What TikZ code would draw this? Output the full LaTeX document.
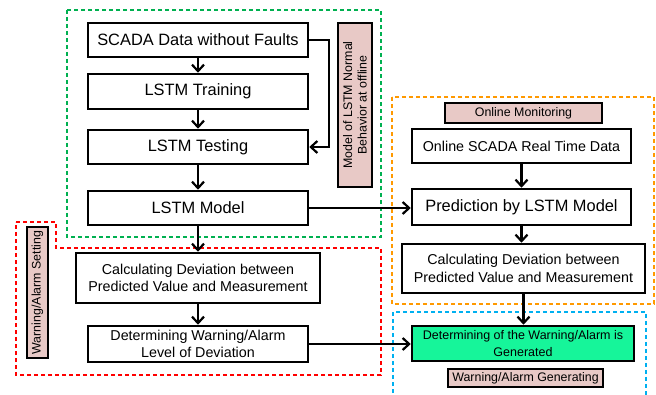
\documentclass[tikz,border=0pt]{standalone}
\usepackage{fontspec}
\setmainfont{Liberation Sans}
\usetikzlibrary{arrows.meta}
\definecolor{dgreen}{HTML}{00B050}
\definecolor{dred}{HTML}{FF0000}
\definecolor{dorange}{HTML}{FF9900}
\definecolor{dblue}{HTML}{00B0F0}
\definecolor{pinkfill}{HTML}{E8C9C6}
\definecolor{mint}{HTML}{16F59A}
\tikzset{
  box/.style={draw=black, line width=2.5pt, fill=white, inner sep=0pt, align=center},
  bigtxt/.style={font=\fontsize{16.4}{19}\selectfont},
  midtxt/.style={font=\fontsize{14.3}{17.3}\selectfont},
  lab/.style={draw=black, line width=2pt, fill=pinkfill, inner sep=0pt, align=center, font=\fontsize{12.4}{14.5}\selectfont},
  arr/.style={line width=2.2pt, -{Straight Barb[length=6.5pt,width=12pt]}},
  dash box/.style={line width=2pt, dash pattern=on 4pt off 3pt},
}
\begin{document}
\begin{tikzpicture}[x=1pt,y=-1pt]
\useasboundingbox (0,0) rectangle (656,395);
% dashed regions
\draw[dash box, dgreen] (67,10) rectangle (381,237);
\draw[dash box, dred] (16,222) -- (56,222) -- (56,248) -- (381,248) -- (381,375) -- (16,375) -- cycle;
\draw[dash box, dorange] (392,97) rectangle (654,304);
\draw[dash box, dblue] (393,400) -- (393,312) -- (646,312) -- (646,400);
% offline
\node[box, bigtxt, minimum width=220pt, minimum height=34pt] (scada) at (198,40) {SCADA Data without Faults};
\node[box, bigtxt, minimum width=220pt, minimum height=35pt] (train) at (198,91.5) {LSTM Training};
\node[box, bigtxt, minimum width=220pt, minimum height=34pt] (test) at (198,147) {LSTM Testing};
\node[box, bigtxt, minimum width=220pt, minimum height=34pt] (model) at (198,208) {LSTM Model};
\node[lab, rotate=90, minimum width=164pt, minimum height=34pt] (lab1) at (355,105) {Model of LSTM Normal\\Behavior at offline};
% warning setting
\node[box, midtxt, minimum width=244pt, minimum height=50pt] (calcL) at (198,278) {Calculating Deviation between\\Predicted Value and Measurement};
\node[box, midtxt, minimum width=220pt, minimum height=36pt] (detL) at (198,344) {Determining Warning/Alarm\\Level of Deviation};
\node[lab, rotate=90, minimum width=131pt, minimum height=21pt] (lab2) at (37.5,292.5) {Warning/Alarm Setting};
% online
\node[lab, minimum width=157pt, minimum height=20pt] (onmon) at (523.5,113) {Online Monitoring};
\node[box, midtxt, minimum width=219pt, minimum height=34pt] (online) at (521.5,146) {Online SCADA Real Time Data};
\node[box, bigtxt, minimum width=219pt, minimum height=36pt] (pred) at (521.5,207) {Prediction by LSTM Model};
\node[box, midtxt, minimum width=243pt, minimum height=49pt] (calcR) at (523.5,268.5) {Calculating Deviation between\\Predicted Value and Measurement};
% generating
\node[box, fill=mint, font=\fontsize{12.5}{17}\selectfont, minimum width=222pt, minimum height=35pt] (gen) at (523,343.5) {Determining of the Warning/Alarm is\\Generated};
\node[lab, minimum width=155pt, minimum height=18pt] (genlab) at (525.5,378) {Warning/Alarm Generating};
% connectors
\draw[arr] (scada) -- (train);
\draw[arr] (train) -- (test);
\draw[arr] (test) -- (model);
\draw[arr] (scada.east) -- ++(20,0) |- (test.east);
\draw[arr] (model) -- (calcL);
\draw[arr] (calcL) -- (detL);
\draw[arr] (model.east) -- (model.east -| pred.west);
\draw[arr] (detL.east) -- (detL.east -| gen.west);
\draw[arr] (online) -- (pred);
\draw[arr] (pred.south) -- (pred.south |- calcR.north);
\draw[arr] (calcR.south) -- (calcR.south |- gen.north);
\end{tikzpicture}
\end{document}
